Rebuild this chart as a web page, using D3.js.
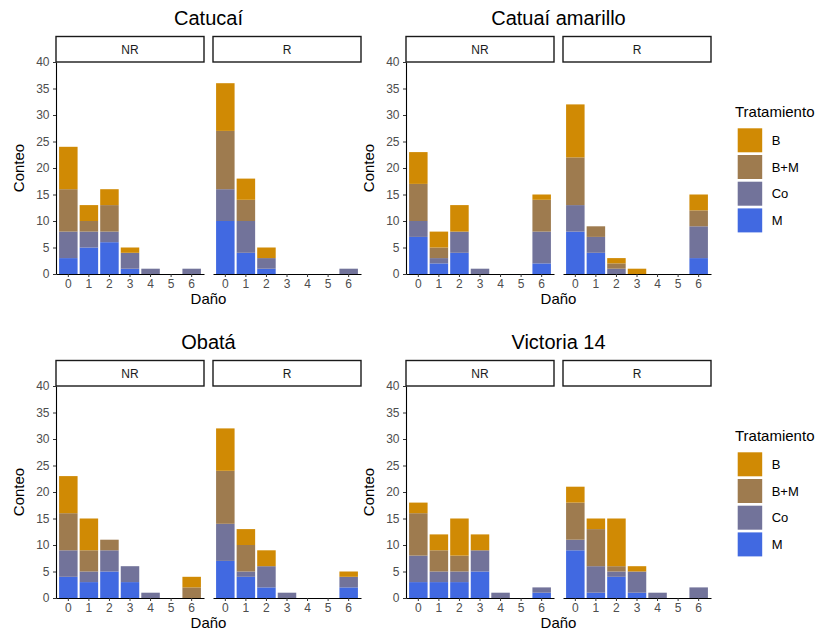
<!DOCTYPE html>
<html>
<head>
<meta charset="utf-8">
<script src="https://cdn.jsdelivr.net/npm/d3@7"></script>
<style>
  html, body { margin: 0; padding: 0; background: #ffffff; }
  svg { display: block; font-family: "Liberation Sans", Arial, Helvetica, sans-serif; }
</style>
</head>
<body>
<svg id="chart" width="830" height="636"></svg>
<script>
// ---------------- DATA ----------------
const varieties = ["Catucaí", "Catuaí amarillo", "Obatá", "Victoria 14"];
const facets = ["NR", "R"];
const damage = [0, 1, 2, 3, 4, 5, 6];
const treatments = ["B", "B+M", "Co", "M"];       // legend order (top of stack first)
const stackOrder = ["M", "Co", "B+M", "B"];       // bottom -> top
const yTicks = [0, 5, 10, 15, 20, 25, 30, 35, 40];
const colors = ["#D08A04", "#9E7B4F", "#72739A", "#4169E1"];

// counts per damage level 0..6
const catucai_NR_M  = [3, 5, 6, 1, 0, 0, 0];
const catucai_NR_Co = [5, 3, 2, 3, 1, 0, 1];
const catucai_NR_BM = [8, 2, 5, 0, 0, 0, 0];
const catucai_NR_B  = [8, 3, 3, 1, 0, 0, 0];
const catucai_R_M   = [10, 4, 1, 0, 0, 0, 0];
const catucai_R_Co  = [6, 6, 2, 0, 0, 0, 1];
const catucai_R_BM  = [11, 4, 0, 0, 0, 0, 0];
const catucai_R_B   = [9, 4, 2, 0, 0, 0, 0];

const catuai_NR_M   = [7, 2, 4, 0, 0, 0, 2];
const catuai_NR_Co  = [3, 1, 4, 1, 0, 0, 6];
const catuai_NR_BM  = [7, 2, 0, 0, 0, 0, 6];
const catuai_NR_B   = [6, 3, 5, 0, 0, 0, 1];
const catuai_R_M    = [8, 4, 0, 0, 0, 0, 3];
const catuai_R_Co   = [5, 3, 1, 0, 0, 0, 6];
const catuai_R_BM   = [9, 2, 1, 0, 0, 0, 3];
const catuai_R_B    = [10, 0, 1, 1, 0, 0, 3];

const obata_NR_M    = [4, 3, 5, 3, 0, 0, 0];
const obata_NR_Co   = [5, 2, 4, 3, 1, 0, 0];
const obata_NR_BM   = [7, 4, 2, 0, 0, 0, 2];
const obata_NR_B    = [7, 6, 0, 0, 0, 0, 2];
const obata_R_M     = [7, 4, 2, 0, 0, 0, 2];
const obata_R_Co    = [7, 1, 4, 1, 0, 0, 2];
const obata_R_BM    = [10, 5, 0, 0, 0, 0, 0];
const obata_R_B     = [8, 3, 3, 0, 0, 0, 1];

const victoria_NR_M  = [3, 3, 3, 5, 0, 0, 1];
const victoria_NR_Co = [5, 2, 2, 4, 1, 0, 1];
const victoria_NR_BM = [8, 4, 3, 0, 0, 0, 0];
const victoria_NR_B  = [2, 3, 7, 3, 0, 0, 0];
const victoria_R_M   = [9, 1, 4, 1, 0, 0, 0];
const victoria_R_Co  = [2, 5, 1, 4, 1, 0, 2];
const victoria_R_BM  = [7, 7, 1, 0, 0, 0, 0];
const victoria_R_B   = [3, 2, 9, 1, 0, 0, 0];

// table built from the arrays above
const table = {
  "Catucaí": {
    NR: { "M": catucai_NR_M, "Co": catucai_NR_Co, "B+M": catucai_NR_BM, "B": catucai_NR_B },
    R:  { "M": catucai_R_M,  "Co": catucai_R_Co,  "B+M": catucai_R_BM,  "B": catucai_R_B }
  },
  "Catuaí amarillo": {
    NR: { "M": catuai_NR_M, "Co": catuai_NR_Co, "B+M": catuai_NR_BM, "B": catuai_NR_B },
    R:  { "M": catuai_R_M,  "Co": catuai_R_Co,  "B+M": catuai_R_BM,  "B": catuai_R_B }
  },
  "Obatá": {
    NR: { "M": obata_NR_M, "Co": obata_NR_Co, "B+M": obata_NR_BM, "B": obata_NR_B },
    R:  { "M": obata_R_M,  "Co": obata_R_Co,  "B+M": obata_R_BM,  "B": obata_R_B }
  },
  "Victoria 14": {
    NR: { "M": victoria_NR_M, "Co": victoria_NR_Co, "B+M": victoria_NR_BM, "B": victoria_NR_B },
    R:  { "M": victoria_R_M,  "Co": victoria_R_Co,  "B+M": victoria_R_BM,  "B": victoria_R_B }
  }
};

// ---------------- LAYOUT ----------------
const colX = [56, 406];
const rowY = [62, 386];
const panelW = 148, panelH = 212, panelGap = 9, stripH = 25.5;
const tickColor = "#4D4D4D";

const svg = d3.select("#chart");
const color = d3.scaleOrdinal(treatments, colors);
const x = d3.scaleBand(damage, [0, panelW]).paddingInner(0.1).paddingOuter(0.15);
const y = d3.scaleLinear([0, 40], [panelH, 0]);

varieties.forEach((v, vi) => {
  const cx = colX[vi % 2], cy = rowY[Math.floor(vi / 2)];
  const g = svg.append("g").attr("transform", `translate(${cx},${cy})`);
  const totalW = panelW * 2 + panelGap;

  // title
  g.append("text")
    .attr("x", totalW / 2).attr("y", -37)
    .attr("text-anchor", "middle")
    .attr("font-size", 20).attr("fill", "#000")
    .text(v);

  facets.forEach((f, fi) => {
    const px = fi * (panelW + panelGap);
    const pg = g.append("g").attr("transform", `translate(${px},0)`);

    // strip
    pg.append("rect")
      .attr("x", 0).attr("y", -stripH).attr("width", panelW).attr("height", stripH)
      .attr("fill", "#fff").attr("stroke", "#1a1a1a").attr("stroke-width", 1.4);
    pg.append("text")
      .attr("x", panelW / 2).attr("y", -stripH / 2).attr("dy", "0.36em")
      .attr("text-anchor", "middle").attr("font-size", 12).attr("fill", "#1a1a1a")
      .text(f);

    // stacked bars
    const rows = damage.map((d, i) => {
      const o = { damage: d };
      stackOrder.forEach(t => { o[t] = table[v][f][t][i]; });
      return o;
    });
    const series = d3.stack().keys(stackOrder)(rows);
    pg.append("g").selectAll("g").data(series).join("g")
      .attr("fill", s => color(s.key))
      .selectAll("rect").data(s => s).join("rect")
      .attr("x", d => x(d.data.damage))
      .attr("width", x.bandwidth())
      .attr("y", d => y(d[1]))
      .attr("height", d => y(d[0]) - y(d[1]));

    // x axis
    const xa = pg.append("g").attr("transform", `translate(0,${panelH})`)
      .call(d3.axisBottom(x).tickSize(3).tickSizeOuter(0).tickPadding(2.5));
    xa.select(".domain").attr("stroke", "#000").attr("stroke-width", 1.1);
    xa.selectAll(".tick line").attr("stroke", "#333");
    xa.selectAll(".tick text").attr("fill", tickColor).attr("font-size", 12)
      .attr("font-family", "Liberation Sans, Arial, sans-serif");

    // y axis only on first facet
    if (fi === 0) {
      const ya = pg.append("g")
        .call(d3.axisLeft(y).tickValues(yTicks).tickSize(3).tickSizeOuter(0).tickPadding(3.5));
      ya.select(".domain").attr("stroke", "#000").attr("stroke-width", 1.1);
      ya.selectAll(".tick line").attr("stroke", "#333");
      ya.selectAll(".tick text").attr("fill", tickColor).attr("font-size", 12)
        .attr("font-family", "Liberation Sans, Arial, sans-serif");
    }
  });

  // axis titles
  g.append("text")
    .attr("x", totalW / 2).attr("y", panelH + 30)
    .attr("text-anchor", "middle").attr("font-size", 15).attr("fill", "#000")
    .text("Daño");
  g.append("text")
    .attr("transform", `translate(-32,${panelH / 2}) rotate(-90)`)
    .attr("text-anchor", "middle").attr("font-size", 15).attr("fill", "#000")
    .text("Conteo");
});

// ---------------- LEGENDS ----------------
rowY.forEach(ry => {
  const lg = svg.append("g").attr("transform", `translate(735,${ry})`);
  lg.append("text").attr("x", 0).attr("y", 55)
    .attr("font-size", 15).attr("fill", "#000").text("Tratamiento");
  const items = lg.selectAll("g.item").data(treatments).join("g")
    .attr("class", "item")
    .attr("transform", (d, i) => `translate(2.7,${66.3 + i * 26.7})`);
  items.append("rect").attr("width", 24.5).attr("height", 24)
    .attr("fill", d => color(d));
  items.append("text").attr("x", 34).attr("y", 12).attr("dy", "0.36em")
    .attr("font-size", 13).attr("fill", "#000").text(d => d);
});
</script>
</body>
</html>
